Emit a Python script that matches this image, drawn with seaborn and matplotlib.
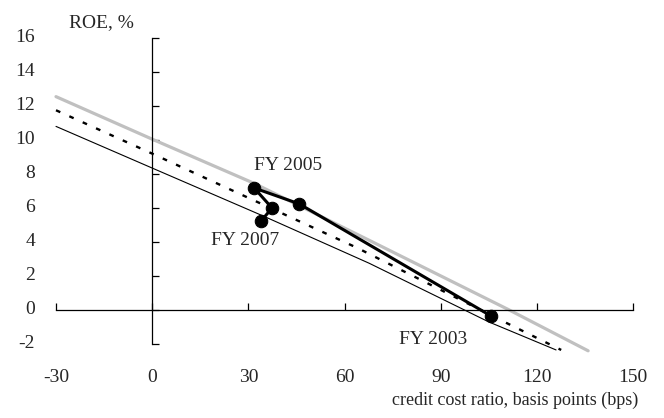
import matplotlib
matplotlib.use("Agg")
import matplotlib.pyplot as plt
import seaborn as sns
import pandas as pd

# === Data ===
# grey line
cc_grey = [-30, 0, 31.8, 67.7, 111.4, 136.0]
roe_grey = [12.55, 10.05, 7.45, 4.1, 0.0, -2.4]
# dashed line
cc_dash = [-30, 0, 64.0, 110.4, 127.6]
roe_dash = [11.75, 9.2, 3.65, -0.75, -2.35]
# thin black line
cc_thin = [-30, 0, 35.0, 67.7, 105.0, 126.0]
roe_thin = [10.8, 8.35, 5.5, 2.75, -0.7, -2.35]
# actual path FY2003 -> FY2007
fy_labels = ["FY 2003", "FY 2004", "FY 2005", "FY 2006", "FY 2007"]
cc_actual = [105.7, 45.9, 31.8, 37.4, 34.0]
roe_actual = [-0.35, 6.24, 7.18, 6.0, 5.24]

x_ticks = [-30, 0, 30, 60, 90, 120, 150]
y_ticks = [-2, 0, 2, 4, 6, 8, 10, 12, 14, 16]

# === Style ===
sns.set_style("white")
plt.rcParams["font.family"] = ["Liberation Serif", "DejaVu Serif"]

fig = plt.figure(figsize=(6.64, 4.18), dpi=100)
ax = fig.add_axes([56 / 664, 1 - 344 / 418, 577 / 664, 306 / 418])

df_actual = pd.DataFrame({"cc": cc_actual, "roe": roe_actual, "fy": fy_labels})

sns.lineplot(x=cc_grey, y=roe_grey, ax=ax, color="#c0c0c0", lw=2.3,
             estimator=None, sort=False, clip_on=False)
sns.lineplot(x=cc_dash, y=roe_dash, ax=ax, color="black", lw=1.7,
             dashes=False, estimator=None, sort=False, clip_on=False,
             linestyle=(0, (2, 4.2)))
sns.lineplot(x=cc_thin, y=roe_thin, ax=ax, color="black", lw=0.8,
             estimator=None, sort=False, clip_on=False)
sns.lineplot(data=df_actual, x="cc", y="roe", ax=ax, color="black", lw=2.2,
             marker="o", markersize=9, markeredgecolor="black",
             estimator=None, sort=False, clip_on=False)

ax.set_xlim(-30, 150)
ax.set_ylim(-2, 16)

# axes crossing at zero
for side in ["top", "right"]:
    ax.spines[side].set_visible(False)
ax.spines["left"].set_position(("data", 0))
ax.spines["bottom"].set_position(("data", 0))
for side in ["left", "bottom"]:
    ax.spines[side].set_color("black")
    ax.spines[side].set_linewidth(0.9)

ax.set_xticks(x_ticks)
ax.set_yticks(y_ticks)
ax.tick_params(axis="both", direction="in", length=5, width=0.9, color="black",
               left=True, bottom=True, labelleft=False, labelbottom=False)
ax.set_xlabel("")
ax.set_ylabel("")

# tick labels at the outer edges
for v in y_ticks:
    ax.text(-0.036, v, str(v), transform=ax.get_yaxis_transform(),
            ha="right", va="center", fontsize=14)
for v in x_ticks:
    ax.text(v, -0.108, str(v), transform=ax.get_xaxis_transform(),
            ha="center", va="center", fontsize=14)

ax.text(1.009, -0.183, "credit cost ratio, basis points (bps)",
        transform=ax.transAxes, ha="right", va="center", fontsize=13)
ax.text(-15.9, 16.9, "ROE, %", ha="center", va="center", fontsize=14)

# year annotations
ax.text(42.4, 8.5, "FY 2005", ha="center", va="center", fontsize=14)
ax.text(29.0, 4.1, "FY 2007", ha="center", va="center", fontsize=14)
ax.text(87.6, -1.76, "FY 2003", ha="center", va="center", fontsize=14)

fig.savefig("out.png", dpi=100)
